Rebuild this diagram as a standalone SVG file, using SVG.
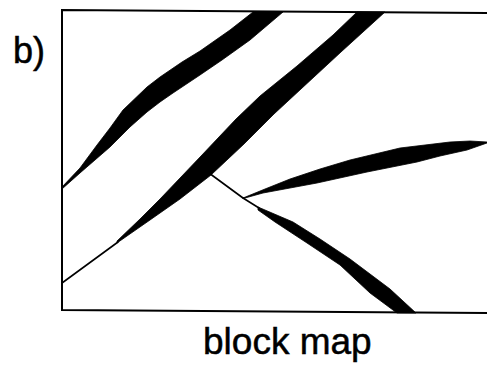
<svg xmlns="http://www.w3.org/2000/svg" width="487" height="374" viewBox="0 0 487 374">
<style>
.lbl{font-family:"Liberation Sans",Arial,sans-serif;fill:#000;stroke:#000;stroke-width:0.5}
.ln{stroke:#000;stroke-width:1.6;fill:none;stroke-linecap:round}
.frame{stroke:#000;stroke-width:2;fill:none}
.band{fill:#000;stroke:#000;stroke-width:0.8;stroke-linejoin:round}
</style>
<rect width="487" height="374" fill="#fff"/>
<g id="frame">
<polyline class="frame" points="487,13 62,10 62,310 487,313"/>
</g>
<g id="band1">
<polygon class="band" points="62,187 80,168 97,145 110,128 123,110 147,87 160,77 182,62 200,51 230,30 253,12 283,12 250,40 222,60 200,75 173,93 160,102 147,112 130,127 110,147 80,173 62,189"/>
</g>
<g id="band2">
<polygon class="band" points="117,241 140,219 160,199 201,156 236,119 260,96 297,66 333,35 357,12 385,12 341,52 301,89 274,114 244,144 211,175 180,199 150,220 127,236 117,243"/>
</g>
<g id="band3">
<polygon class="band" points="243,198 265,189 290,179 320,169 350,160 400,148 450,142 470,141 487,142 487,143 467,150 440,156 417,162 367,172 317,183 290,188 263,193 245,198"/>
</g>
<g id="band4">
<polygon class="band" points="258,207 293,222 320,239 350,259 390,289 416,313 397,313 370,293 340,265 307,243 275,222 258,210"/>
</g>
<g id="connectors">
<line class="ln" x1="62" y1="283" x2="118" y2="242"/>
<line class="ln" x1="209" y1="173" x2="243" y2="198"/>
<line class="ln" x1="243" y1="198" x2="259" y2="208"/>
</g>
<g id="labels">
<text class="lbl" x="13" y="63" font-size="36">b)</text>
<text class="lbl" x="203" y="354" font-size="37">block map</text>
</g>
</svg>
